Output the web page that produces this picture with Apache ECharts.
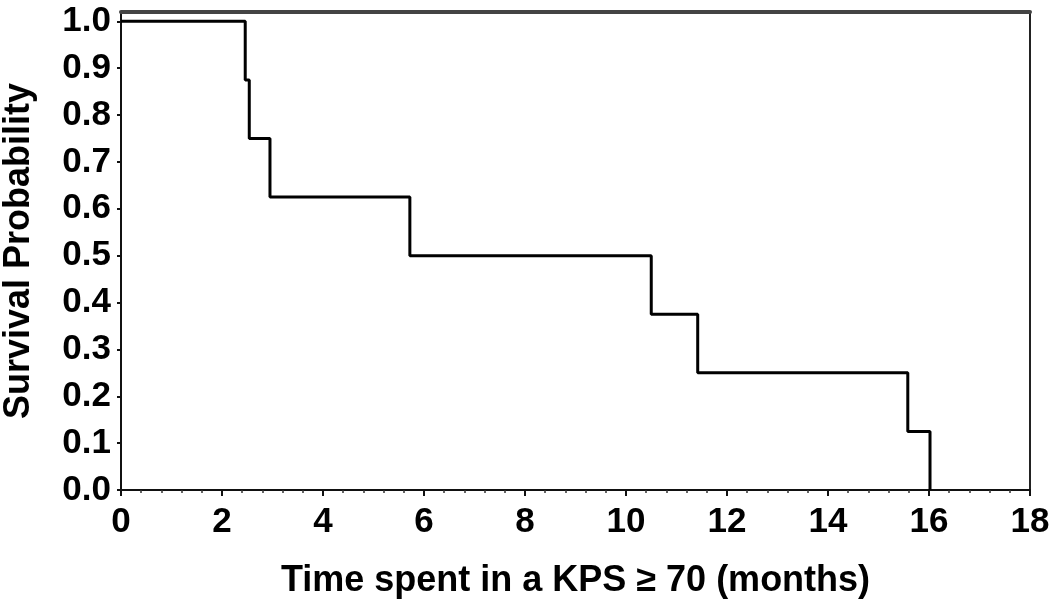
<!DOCTYPE html>
<html>
<head>
<meta charset="utf-8">
<script src="https://cdn.jsdelivr.net/npm/echarts@6/dist/echarts.min.js"></script>
<style>html,body{margin:0;padding:0;background:#fff}#c{width:1050px;height:615px}</style>
</head>
<body>
<div id="c"></div>
<script>
// Kaplan-Meier step points (time in months, survival probability)
const times = [0, 2.46, 2.54, 2.95, 5.72, 10.5, 11.42, 15.58, 16.02];
const survival = [1.0, 0.875, 0.75, 0.625, 0.5, 0.375, 0.25, 0.125, 0.0];
const xTicks = [0, 2, 4, 6, 8, 10, 12, 14, 16, 18];
const yTicks = [0, 0.1, 0.2, 0.3, 0.4, 0.5, 0.6, 0.7, 0.8, 0.9, 1.0];
const xTitle = 'Time spent in a KPS \u2265 70 (months)';
const yTitle = 'Survival Probability';

const font = '"Liberation Sans", Arial, sans-serif';
const chart = echarts.init(document.getElementById('c'));
chart.setOption({
  animation: false,
  backgroundColor: '#fff',
  grid: { left: 121, right: 20, top: 12, bottom: 125, containLabel: false, outerBoundsMode: 'none' },
  xAxis: [{
    type: 'value', min: 0, max: 18, interval: 2,
    name: xTitle, nameLocation: 'middle', nameGap: 73,
    nameTextStyle: { fontFamily: font, fontWeight: 'bold', fontSize: 36, color: '#000' },
    axisLine: { onZero: false, lineStyle: { color: '#111', width: 2 } },
    axisTick: { show: true, length: 6, lineStyle: { color: '#111', width: 2 } },
    minorTick: { show: true, splitNumber: 5, length: 3, lineStyle: { color: '#333', width: 1.5 } },
    axisLabel: { customValues: xTicks, fontFamily: font, fontWeight: 'bold', fontSize: 35, color: '#000', margin: 15 },
    splitLine: { show: false }
  }, {
    type: 'value', min: 0, max: 18, position: 'top',
    axisLine: { show: true, onZero: false, lineStyle: { color: '#444', width: 4 } },
    axisTick: { show: false }, axisLabel: { show: false }, splitLine: { show: false }
  }],
  yAxis: [{
    type: 'value', min: 0, max: 1.02, interval: 0.1,
    name: yTitle, nameLocation: 'middle', nameGap: 84, nameRotate: 90,
    nameTextStyle: { fontFamily: font, fontWeight: 'bold', fontSize: 36, color: '#000' },
    axisLine: { show: true, onZero: false, lineStyle: { color: '#111', width: 2 } },
    axisTick: { show: true, customValues: yTicks, length: 4, lineStyle: { color: '#111', width: 2 } },
    axisLabel: { customValues: yTicks, formatter: v => v.toFixed(1), fontFamily: font, fontWeight: 'bold', fontSize: 35, color: '#000', margin: 10 },
    splitLine: { show: false }
  }, {
    type: 'value', min: 0, max: 1.02, position: 'right',
    axisLine: { show: true, onZero: false, lineStyle: { color: '#222', width: 2 } },
    axisTick: { show: false }, axisLabel: { show: false }, splitLine: { show: false }
  }],
  series: [{
    type: 'line', step: 'end', showSymbol: false,
    data: times.map((t, i) => [t, survival[i]]),
    lineStyle: { color: '#000', width: 3 },
    clip: false
  }]
});
</script>
</body>
</html>
